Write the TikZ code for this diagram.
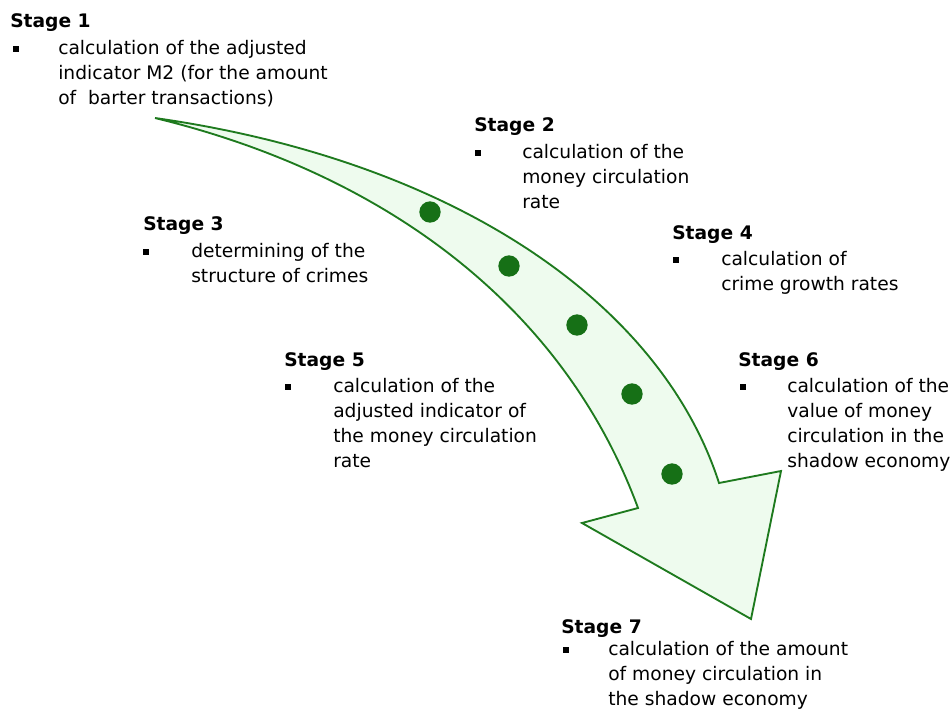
\documentclass[tikz,border=0pt]{standalone}
\usepackage{fontspec}
\setmainfont{DejaVu Sans}
\definecolor{arrowline}{RGB}{30,122,30}
\definecolor{arrowfill}{RGB}{238,251,238}
\definecolor{dotgreen}{RGB}{22,112,22}
\newcommand{\stagelines}[1]{\begin{tabular}[t]{@{}l@{}}#1\end{tabular}}
\tikzset{
  stagetitle/.style={anchor=base west, inner sep=0pt, font=\fontsize{14}{18.75}\selectfont\bfseries},
  stagetext/.style={anchor=base west, inner sep=0pt, font=\fontsize{14}{18.75}\selectfont},
  bulletmark/.style={fill=black, inner sep=0pt, minimum size=4.4pt},
  stagedot/.style={circle, fill=dotgreen, inner sep=0pt, minimum size=16pt}
}
\begin{document}
\begin{tikzpicture}[x=0.75pt, y=-0.75pt]
\useasboundingbox (0,0) rectangle (952,715);
% curved arrow
\filldraw[draw=arrowline, fill=arrowfill, line width=1.4pt, miter limit=4]
  (155,118) .. controls (450,160) and (660,300) .. (719,483)
  -- (781,471) -- (751,619) -- (582,523) -- (638,508)
  .. controls (565,310) and (390,175) .. (155,118) -- cycle;
\foreach \x/\y [count=\i] in {430/212, 509/266, 577/325, 632/394, 672/474}
  \node[stagedot] (dot\i) at (\x,\y) {};
% stage 1
\node[stagetitle] (s1) at (10,27) {Stage 1};
\node[bulletmark] (b1) at (16,49) {};
\node[stagetext] (t1) at (58,54) {\stagelines{calculation of the adjusted\\indicator M2 (for the amount\\of\ \ barter transactions)}};
% stage 2
\node[stagetitle] (s2) at (474,131) {Stage 2};
\node[bulletmark] (b2) at (478,153) {};
\node[stagetext] (t2) at (522,158) {\stagelines{calculation of the\\money circulation\\rate}};
% stage 3
\node[stagetitle] (s3) at (143,230) {Stage 3};
\node[bulletmark] (b3) at (146,252) {};
\node[stagetext] (t3) at (191,257) {\stagelines{determining of the\\structure of crimes}};
% stage 4
\node[stagetitle] (s4) at (672,239) {Stage 4};
\node[bulletmark] (b4) at (676,260) {};
\node[stagetext] (t4) at (721,265) {\stagelines{calculation of\\crime growth rates}};
% stage 5
\node[stagetitle] (s5) at (284,366) {Stage 5};
\node[bulletmark] (b5) at (288,387) {};
\node[stagetext] (t5) at (333,392) {\stagelines{calculation of the\\adjusted indicator of\\the money circulation\\rate}};
% stage 6
\node[stagetitle] (s6) at (738,366) {Stage 6};
\node[bulletmark] (b6) at (743,387) {};
\node[stagetext] (t6) at (787,392) {\stagelines{calculation of the\\value of money\\circulation in the\\shadow economy}};
% stage 7
\node[stagetitle] (s7) at (561,633) {Stage 7};
\node[bulletmark] (b7) at (566,650) {};
\node[stagetext] (t7) at (608,655) {\stagelines{calculation of the amount\\of money circulation in\\the shadow economy}};
\end{tikzpicture}
\end{document}
